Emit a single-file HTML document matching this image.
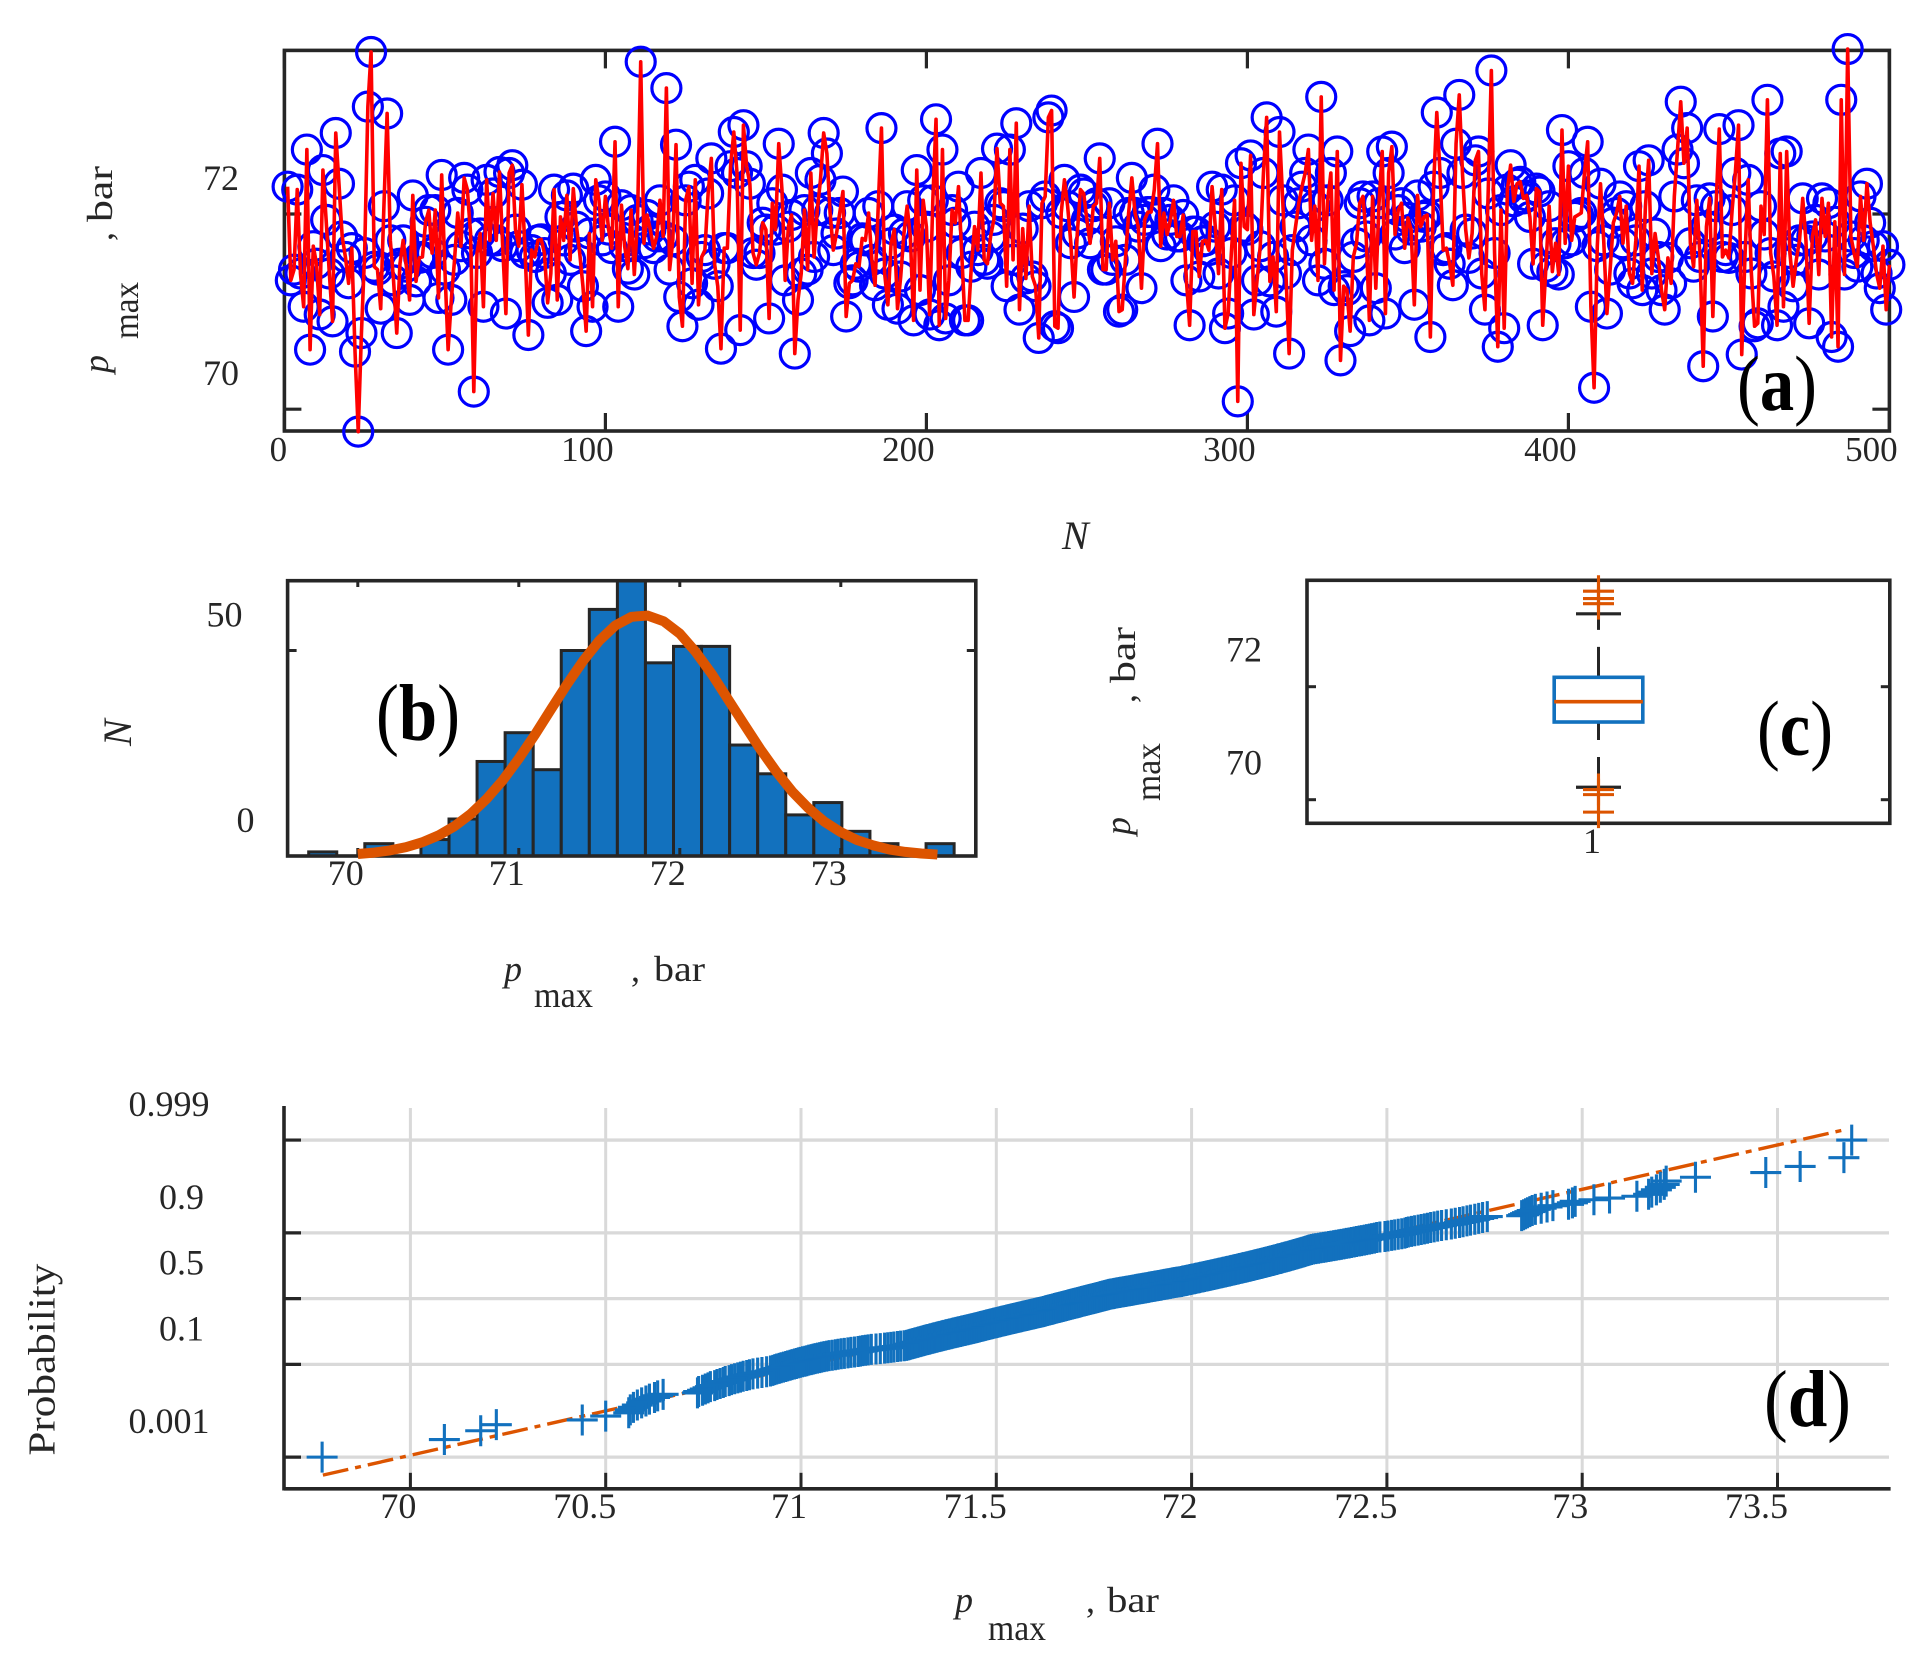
<!DOCTYPE html>
<html lang="en">
<head>
<meta charset="utf-8">
<title>Peak pressure statistics</title>
<style>
html,body{margin:0;padding:0;background:#fff}
svg{display:block}
text{font-family:"Liberation Serif",serif;fill:#262626}
</style>
</head>
<body>
<svg id="fig" xmlns="http://www.w3.org/2000/svg" width="1932" height="1672" viewBox="0 0 1932 1672">
<defs><clipPath id="histClip"><rect x="287.6" y="580.7" width="688.2" height="275.3"/></clipPath></defs>

<g id="panelA">
  <rect x="284.4" y="50.4" width="1605" height="380.6" fill="none" stroke="#262626" stroke-width="3.6"/>
</g>
<g id="panelB"></g>
<g id="panelC">
  <rect x="1307" y="580.3" width="582.8" height="243" fill="none" stroke="#262626" stroke-width="3.6"/>
</g>
<g id="panelD"></g>

<g font-size="36">
  <text transform="translate(108,373) rotate(-90)" font-style="italic">p</text>
  <text transform="translate(138,339) rotate(-90)" textLength="57" lengthAdjust="spacingAndGlyphs">max</text>
  <text transform="translate(112,241) rotate(-90)">,</text>
  <text transform="translate(112,222) rotate(-90)" textLength="56" lengthAdjust="spacingAndGlyphs">bar</text>
</g>
<text x="1062" y="549" font-size="40" font-style="italic">N</text>
<text x="1737" y="410" font-size="78" textLength="80" lengthAdjust="spacingAndGlyphs" style="fill:#000">(<tspan font-weight="bold">a</tspan>)</text>

<text transform="translate(131,746) rotate(-90)" font-size="40" font-style="italic">N</text>
<g font-size="36">
  <text x="504" y="981" font-style="italic">p</text>
  <text x="534" y="1007" textLength="59" lengthAdjust="spacingAndGlyphs">max</text>
  <text x="631" y="981">,</text>
  <text x="654" y="981" textLength="51" lengthAdjust="spacingAndGlyphs">bar</text>
</g>
<text x="376" y="740" font-size="80" textLength="84" lengthAdjust="spacingAndGlyphs" style="fill:#000">(<tspan font-weight="bold">b</tspan>)</text>

<g font-size="36">
  <text transform="translate(1130,835) rotate(-90)" font-style="italic">p</text>
  <text transform="translate(1160,801) rotate(-90)" textLength="58" lengthAdjust="spacingAndGlyphs">max</text>
  <text transform="translate(1135,703) rotate(-90)">,</text>
  <text transform="translate(1135,683) rotate(-90)" textLength="56" lengthAdjust="spacingAndGlyphs">bar</text>
</g>
<text x="1757" y="755" font-size="78" textLength="76" lengthAdjust="spacingAndGlyphs" style="fill:#000">(<tspan font-weight="bold">c</tspan>)</text>

<text transform="translate(54.5,1455.6) rotate(-90)" font-size="38" textLength="192" lengthAdjust="spacingAndGlyphs">Probability</text>
<g font-size="36">
  <text x="955" y="1612" font-style="italic">p</text>
  <text x="988" y="1640" textLength="58" lengthAdjust="spacingAndGlyphs">max</text>
  <text x="1086" y="1612">,</text>
  <text x="1107" y="1612" textLength="52" lengthAdjust="spacingAndGlyphs">bar</text>
</g>
<text x="1764" y="1426" font-size="80" textLength="87" lengthAdjust="spacingAndGlyphs" style="fill:#000">(<tspan font-weight="bold">d</tspan>)</text>
</svg>

<script>
// ---- Panel (a): peak pressure per shot, bar ----
const pressureSeries = [
72.28,71.32,71.43,72.25,71.39,71.05,72.66,70.61,71.67,71.49,
70.97,72.45,71.94,71.39,70.90,72.83,72.31,71.77,71.56,71.29,
71.65,70.59,69.77,70.78,71.60,73.10,73.66,71.46,71.43,71.03,
72.08,73.03,71.73,71.32,70.78,71.49,71.73,71.46,71.12,72.19,
71.31,71.55,71.56,71.92,72.04,71.60,72.04,71.14,72.40,71.43,
70.61,71.12,71.53,72.01,71.67,72.37,72.25,71.80,70.18,71.60,
71.80,71.05,72.35,71.73,72.21,71.73,72.43,71.67,70.98,72.42,
72.50,71.84,71.67,72.30,71.60,70.76,71.63,71.56,71.73,71.74,
71.60,71.09,71.39,72.25,71.12,71.97,71.73,72.19,71.53,72.26,
71.87,71.60,71.26,70.80,71.80,71.05,72.35,72.14,71.73,72.18,
71.84,71.65,72.74,71.05,72.09,71.67,71.44,72.04,71.38,71.94,
73.56,71.70,71.99,71.84,71.65,71.77,72.14,71.77,73.29,71.43,
71.73,72.71,71.15,70.85,72.14,72.28,71.29,72.35,71.07,71.56,
71.63,72.21,72.57,71.49,71.26,70.62,71.65,71.65,72.49,72.84,
72.42,70.81,72.91,72.49,72.31,71.60,71.48,71.60,71.91,71.84,
70.93,72.11,71.84,72.72,72.25,71.32,71.87,71.99,70.57,71.12,
71.39,72.04,71.43,72.42,71.56,72.04,72.35,72.83,72.62,72.01,
71.63,71.80,72.01,72.23,70.95,71.29,71.32,71.49,71.46,71.75,
71.73,72.01,71.53,71.27,72.08,72.88,71.39,71.07,71.70,71.84,
71.03,71.36,71.80,72.08,71.77,70.91,72.45,71.22,72.14,71.87,
70.97,72.14,72.97,70.86,72.66,70.93,71.32,72.04,71.91,72.28,
71.60,70.91,70.91,71.46,71.87,71.63,72.42,71.53,71.49,71.77,
71.94,72.67,72.11,72.08,71.26,72.66,71.53,72.93,71.02,71.85,
71.34,72.08,71.36,71.26,70.73,72.11,72.18,72.99,73.06,70.85,
70.83,72.01,72.35,72.08,71.70,71.15,71.80,72.25,72.21,71.94,
71.70,72.08,72.11,72.57,71.43,71.43,72.11,71.53,71.72,71.00,
71.02,71.53,72.01,72.37,72.01,71.87,71.24,71.94,72.02,72.02,
72.25,72.72,71.67,72.01,71.79,71.94,72.14,71.77,71.77,71.99,
71.32,70.86,71.82,71.82,71.36,71.72,71.73,71.63,72.28,71.87,
71.39,72.25,70.83,70.98,71.60,72.14,70.08,72.52,71.87,71.84,
72.60,70.97,71.32,71.67,72.42,72.99,71.31,71.56,71.00,72.84,
72.14,71.39,70.57,71.63,71.87,72.11,72.28,72.42,72.66,71.73,
72.08,71.32,73.20,71.49,72.14,72.42,71.22,72.64,70.50,71.26,
71.22,70.80,71.56,71.70,72.11,72.18,71.77,70.91,72.18,71.24,
72.11,72.64,70.98,72.42,72.69,71.79,72.04,72.11,71.65,71.96,
71.84,71.07,72.19,71.87,71.97,71.99,70.74,72.28,73.04,72.42,
71.63,71.65,71.49,71.27,72.72,73.22,72.42,71.84,71.55,71.80,
72.55,72.64,71.39,71.02,72.21,73.47,71.60,70.64,72.04,70.83,
72.25,72.50,72.13,72.31,72.33,72.16,72.19,71.97,71.49,72.26,
72.23,70.86,71.46,72.08,71.41,71.70,71.38,72.86,71.70,72.49,
71.73,71.97,71.99,72.01,72.42,72.74,71.05,70.22,71.67,72.31,
71.73,70.98,71.43,71.91,72.01,72.18,71.70,72.08,71.39,71.29,
71.73,72.49,71.22,72.08,72.55,71.39,71.80,71.56,71.22,71.02,
71.55,71.29,72.18,72.66,73.15,72.52,72.88,71.70,71.46,72.14,
71.56,70.44,71.87,72.16,70.95,72.08,72.87,71.56,71.63,71.55,
72.04,72.42,72.91,70.56,71.56,72.35,71.39,70.85,70.88,72.08,
71.79,73.17,71.60,71.36,70.86,72.62,71.05,72.64,71.60,71.26,
71.53,71.73,72.16,71.73,70.88,71.77,71.94,71.38,72.16,71.77,
72.11,70.74,71.92,70.64,73.17,71.38,73.69,71.77,71.60,71.46,
72.18,71.73,72.31,71.91,71.67,71.39,71.24,71.67,71.02,71.48
];
const aXTicks = [0,100,200,300,400,500];
const aYTicks = [70,72];

// ---- Panel (b): histogram and fitted curve ----
const binStart = 69.695;
const binWidth = 0.1743;
const binCounts = [1,0,3,0,4,9,23,30,21,50,60,67,47,51,51,27,20,10,13,6,3,0,3];
const curveValues = [70.0,70.1,70.2,70.3,70.4,70.5,70.6,70.7,70.8,70.9,71.0,71.1,71.2,71.3,71.4,71.5,71.6,71.7,71.8,71.9,72.0,72.1,72.2,72.3,72.4,72.5,72.6,72.7,72.8,72.9,73.0,73.1,73.2,73.3,73.4,73.5,73.6];
const curveCounts = [0.49,0.83,1.36,2.16,3.33,4.98,7.24,10.2,13.9,18.4,23.7,29.5,35.7,41.8,47.5,52.4,56.1,58.2,58.5,57.1,54.1,49.6,44.2,38.1,32.0,26.0,20.5,15.6,11.6,8.3,5.8,3.9,2.6,1.6,1.0,0.61,0.35];
const bXTicks = [70,71,72,73];
const bYTicks = [0,50];

// ---- Panel (c): box plot ----
const boxStats = [70.22,71.375,71.735,72.166,73.29];
const boxOutliers = [69.78,70.09,70.18,73.47,73.56,73.69];
const cYTicks = [70,72];
const cXLabels = ['1'];

// ---- Panel (d): normal probability plot ----
const sortedPressure = [
69.774,70.087,70.18,70.22,70.44,70.50,
70.559,70.563,70.571,70.581,70.592,70.603,70.612,70.625,70.633,70.647,
70.735,70.738,70.748,70.755,70.762,70.768,70.779,70.785,70.793,70.801,70.806,70.816,70.822,70.83,70.838,70.845,70.852,70.861,70.868,70.877,70.889,70.9,70.912,
70.922,70.928,70.933,70.938,70.944,70.949,70.955,70.961,70.966,70.972,70.977,70.983,70.988,70.993,70.998,71.004,71.01,71.015,71.02,71.026,71.031,71.036,71.042,71.048,71.053,71.059,71.066,71.072,71.08,71.088,
71.095,71.103,71.111,71.12,71.128,71.137,71.146,71.152,71.158,71.165,71.172,71.18,71.192,71.203,71.214,71.222,71.23,71.238,71.247,71.255,71.264,
71.27,71.274,71.277,71.28,71.284,71.287,71.291,71.294,71.298,71.301,71.305,71.308,71.312,71.315,71.318,71.322,71.325,71.329,71.332,71.336,
71.339,71.342,71.346,71.349,71.353,71.356,71.36,71.363,71.366,71.37,71.373,71.377,71.38,71.384,71.387,71.39,71.394,71.397,71.401,71.404,
71.408,71.411,71.414,71.418,71.421,71.425,71.428,71.432,71.435,71.438,
71.442,71.445,71.448,71.451,71.454,71.457,71.46,71.463,71.466,71.469,71.472,71.475,71.478,71.481,71.484,71.487,71.49,71.493,71.496,71.499,
71.502,71.505,71.508,71.511,71.514,71.517,71.52,71.523,71.526,71.529,71.532,71.535,71.538,71.541,71.544,71.547,71.55,71.553,71.556,71.559,
71.562,71.565,71.568,71.571,71.574,71.577,71.58,71.583,71.586,71.589,71.592,71.595,71.598,71.601,71.604,71.607,71.61,71.613,71.616,71.619,
71.621,71.624,71.626,71.629,71.631,71.634,71.636,71.639,71.642,71.644,71.647,71.649,71.652,71.654,71.657,71.66,71.662,71.665,71.667,71.67,
71.672,71.675,71.677,71.68,71.683,71.685,71.688,71.69,71.693,71.695,71.698,71.70,71.703,71.706,71.708,71.711,71.713,71.716,71.718,71.721,
71.724,71.726,71.729,71.731,71.734,71.736,71.739,71.741,71.744,71.747,71.749,71.752,71.754,71.757,71.759,71.762,71.765,71.767,71.77,71.772,
71.775,71.777,71.78,71.782,71.785,71.787,71.789,
71.792,71.796,71.8,71.803,71.807,71.811,71.815,71.818,71.822,71.826,71.83,71.833,71.837,71.841,71.845,71.848,71.852,71.856,71.86,71.863,
71.867,71.871,71.875,71.878,71.882,71.886,71.89,71.893,71.897,71.901,71.905,71.908,71.912,71.916,71.92,71.923,71.927,71.931,71.935,71.938,
71.942,71.946,71.95,71.953,71.957,71.961,71.965,
71.97,71.974,71.977,71.98,71.984,71.987,71.99,71.994,71.997,72.0,72.003,72.007,72.01,72.013,72.017,72.02,72.023,72.027,72.03,72.033,
72.037,72.04,72.043,72.047,72.05,72.053,72.057,72.06,72.063,72.067,72.07,72.073,72.077,72.08,72.083,72.087,72.09,72.093,72.097,72.1,
72.103,72.107,72.11,72.113,72.117,72.12,72.123,72.127,72.13,72.133,72.137,
72.14,72.143,72.147,72.15,72.153,72.157,72.16,72.163,72.167,72.17,72.173,72.177,72.18,72.183,72.187,72.19,72.193,72.197,72.2,72.203,
72.207,72.21,72.213,72.217,72.22,72.223,72.227,72.23,72.233,72.237,72.24,72.243,72.247,72.25,72.253,72.257,72.26,72.263,72.267,72.27,
72.273,72.277,72.28,72.283,72.287,72.29,72.293,72.297,72.3,72.303,72.307,
72.312,72.318,72.325,72.331,72.338,72.344,72.351,72.357,72.364,72.37,72.377,72.383,72.39,72.396,72.403,72.409,72.416,72.422,72.429,72.435,
72.442,72.448,72.455,72.461,72.468,72.474,72.482,
72.495,72.503,72.512,72.52,72.529,72.538,72.546,72.55,72.555,72.563,72.571,72.58,72.588,72.596,72.604,72.612,72.621,72.63,72.64,72.652,
72.665,72.675,72.686,72.695,72.705,72.714,72.725,72.735,72.745,72.757,
72.845,72.85,72.855,72.86,72.866,72.872,72.88,72.895,72.91,72.925,72.965,72.975,72.982,
73.03,73.07,73.14,73.17,73.178,73.19,
73.2,73.21,73.215,73.29,73.47,73.558,73.67,73.69
];
const fitValues = [69.776,73.668];
const fitProbabilities = [0.00029,0.99949];
const dXTicks = [70,70.5,71,71.5,72,72.5,73,73.5];
const dYTicks = [0.001,0.1,0.5,0.9,0.999];

// ---- Axis functions ----
const xA = n => 284.4 + 3.21 * n;
const yA = v => 214 + (72 - v) * 97.6;
const xB = v => 357.8 + 161 * (v - 70);
const yB = c => 856 - 4.11 * c;
const xC = () => 1598.5;
const yC = v => 686.7 + (72 - v) * 56.5;
const xD = v => 410.4 + 390.6 * (v - 70);
function normInv(p){
  const a=[-39.69683028665376,220.9460984245205,-275.9285104469687,138.357751867269,-30.66479806614716,2.506628277459239];
  const b=[-54.47609879822406,161.5858368580409,-155.6989798598866,66.80131188771972,-13.28068155288572];
  const c=[-0.007784894002430293,-0.3223964580411365,-2.400758277161838,-2.549732539343734,4.374664141464968,2.938163982698783];
  const d=[0.007784695709041462,0.3224671290700398,2.445134137142996,3.754408661907416];
  let q,r;
  if(p<0.02425){q=Math.sqrt(-2*Math.log(p));return (((((c[0]*q+c[1])*q+c[2])*q+c[3])*q+c[4])*q+c[5])/((((d[0]*q+d[1])*q+d[2])*q+d[3])*q+1);}
  if(p>1-0.02425){q=Math.sqrt(-2*Math.log(1-p));return -(((((c[0]*q+c[1])*q+c[2])*q+c[3])*q+c[4])*q+c[5])/((((d[0]*q+d[1])*q+d[2])*q+d[3])*q+1);}
  q=p-0.5;r=q*q;
  return (((((a[0]*r+a[1])*r+a[2])*r+a[3])*r+a[4])*r+a[5])*q/(((((b[0]*r+b[1])*r+b[2])*r+b[3])*r+b[4])*r+1);
}
const yD = p => 1298.6 - 51.3 * normInv(p);

// ---- Helpers ----
const NS = 'http://www.w3.org/2000/svg';
const INK = '#262626', BLUE = '#1271be', ORANGE = '#dc5400', GRID = '#d9d9d9';
function mk(tag, attrs, parent){
  const el = document.createElementNS(NS, tag);
  for (const k in attrs) el.setAttribute(k, attrs[k]);
  parent.appendChild(el);
  return el;
}
function labelShift(s){
  return 6 * (s.replace('.', '').length + (s.includes('.') ? 0.5 : 0));
}
const panelA = document.getElementById('panelA');
const panelB = document.getElementById('panelB');
const panelC = document.getElementById('panelC');
const panelD = document.getElementById('panelD');

// ---- Draw panel (a) ----
aXTicks.forEach(t => {
  [[431, 413], [50.4, 68.4]].forEach(([y1, y2]) => {
    const tk = mk('line', {x1: xA(t), x2: xA(t), y1, y2, stroke: INK, 'stroke-width': 3.2}, panelA);
    
    
  });
  const s = String(t);
  const lb = mk('text', {x: xA(t) - labelShift(s), y: 461, 'font-size': 35, 'text-anchor': 'middle'}, panelA);
  lb.textContent = s;
  
  
});
aYTicks.forEach(t => {
  [[284.4, 301.4], [1889.4, 1872.4]].forEach(([x1, x2]) => {
    const tk = mk('line', {x1, x2, y1: yA(t), y2: yA(t), stroke: INK, 'stroke-width': 3.2}, panelA);
    
    
  });
  const lb = mk('text', {x: 221, y: yA(t) - 24, 'font-size': 36, 'text-anchor': 'middle'}, panelA);
  lb.textContent = String(t);
  
  
});
pressureSeries.forEach((v, i) => {
  const c = mk('circle', {cx: xA(i + 1), cy: yA(v), r: 14.5, fill: 'none', stroke: '#0000ff', 'stroke-width': 3.2}, panelA);
  
  
});
const redLine = mk('polyline', {points: pressureSeries.map((v, i) => xA(i + 1).toFixed(2) + ',' + yA(v).toFixed(2)).join(' '), fill: 'none', stroke: '#ff0000', 'stroke-width': 3.6, 'stroke-linejoin': 'round'}, panelA);



// ---- Draw panel (b) ----
const barsB = mk('g', {'clip-path': 'url(#histClip)'}, panelB);


binCounts.forEach((c, i) => {
  if (c <= 0) return;
  const x0 = xB(binStart + binWidth * i), x1 = xB(binStart + binWidth * (i + 1));
  const r = mk('rect', {x: x0, y: yB(c), width: x1 - x0, height: yB(0) - yB(c), fill: BLUE, stroke: INK, 'stroke-width': 3}, barsB);
  
  
});
const frameB = mk('rect', {x: 287.6, y: 580.7, width: 688.2, height: 275.3, fill: 'none', stroke: INK, 'stroke-width': 3.6}, panelB);


bXTicks.forEach(t => {
  [[856, 848], [580.7, 587]].forEach(([y1, y2]) => {
    const tk = mk('line', {x1: xB(t), x2: xB(t), y1, y2, stroke: INK, 'stroke-width': 3}, panelB);
    
    
  });
  const s = String(t);
  const lb = mk('text', {x: xB(t) - labelShift(s), y: 885, 'font-size': 36, 'text-anchor': 'middle'}, panelB);
  lb.textContent = s;
  
  
});
bYTicks.forEach(t => {
  [[287.6, 296.6], [975.8, 966.8]].forEach(([x1, x2]) => {
    const tk = mk('line', {x1, x2, y1: yB(t), y2: yB(t), stroke: INK, 'stroke-width': 3}, panelB);
    
    
  });
  const s = String(t);
  const lb = mk('text', {x: 254 - (s.length === 1 ? 8.5 : 29.5), y: yB(t) - 24, 'font-size': 36, 'text-anchor': 'middle'}, panelB);
  lb.textContent = s;
  
  
});
const curve = mk('polyline', {points: curveValues.map((v, i) => xB(v).toFixed(2) + ',' + yB(curveCounts[i]).toFixed(2)).join(' '), fill: 'none', stroke: ORANGE, 'stroke-width': 10, 'stroke-linejoin': 'round'}, panelB);



// ---- Draw panel (c) ----
cYTicks.forEach(t => {
  [[1307, 1316], [1889.8, 1880.8]].forEach(([x1, x2]) => {
    const tk = mk('line', {x1, x2, y1: yC(t), y2: yC(t), stroke: INK, 'stroke-width': 3}, panelC);
    
    
  });
  const lb = mk('text', {x: 1244, y: yC(t) - 25, 'font-size': 36, 'text-anchor': 'middle'}, panelC);
  lb.textContent = String(t);
  
  
});
const catLabel = mk('text', {x: 1592, y: 853, 'font-size': 36, 'text-anchor': 'middle'}, panelC);
catLabel.textContent = cXLabels[0];


const cx = xC();
const upperWhisker = mk('line', {x1: cx, x2: cx, y1: yC(boxStats[4]), y2: yC(boxStats[3]), stroke: INK, 'stroke-width': 3, 'stroke-dasharray': '16 17 40'}, panelC);


const lowerWhisker = mk('line', {x1: cx, x2: cx, y1: yC(boxStats[1]), y2: yC(boxStats[0]), stroke: INK, 'stroke-width': 3, 'stroke-dasharray': '18 17 40'}, panelC);


[boxStats[0], boxStats[4]].forEach(v => {
  const cap = mk('line', {x1: cx - 22.5, x2: cx + 22.5, y1: yC(v), y2: yC(v), stroke: INK, 'stroke-width': 3.2}, panelC);
  
  
});
const box = mk('rect', {x: cx - 44.3, y: yC(boxStats[3]), width: 88.6, height: yC(boxStats[1]) - yC(boxStats[3]), fill: 'none', stroke: BLUE, 'stroke-width': 3.6}, panelC);


const median = mk('line', {x1: cx - 44.3, x2: cx + 44.3, y1: yC(boxStats[2]), y2: yC(boxStats[2]), stroke: ORANGE, 'stroke-width': 3.6}, panelC);


boxOutliers.forEach(v => {
  const o = mk('path', {d: 'M' + (cx - 15.5) + ' ' + yC(v) + 'H' + (cx + 15.5) + 'M' + cx + ' ' + (yC(v) - 16) + 'V' + (yC(v) + 16), fill: 'none', stroke: ORANGE, 'stroke-width': 3.1}, panelC);
  
  
});

// ---- Draw panel (d) ----
dYTicks.forEach(p => {
  const g = mk('line', {x1: 284, x2: 1889, y1: yD(p), y2: yD(p), stroke: GRID, 'stroke-width': 3.3}, panelD);
  
  
});
dXTicks.forEach(t => {
  const g = mk('line', {x1: xD(t), x2: xD(t), y1: 1108, y2: 1489, stroke: GRID, 'stroke-width': 3}, panelD);
  
  
});
const fitLine = mk('line', {x1: xD(fitValues[0]), x2: xD(fitValues[1]), y1: yD(fitProbabilities[0]), y2: yD(fitProbabilities[1]), stroke: ORANGE, 'stroke-width': 3.4, 'stroke-dasharray': '26 7 6 7'}, panelD);


sortedPressure.forEach((v, i) => {
  const px = xD(v), py = yD((i + 0.5) / sortedPressure.length);
  const m = mk('path', {d: 'M' + (px - 15.5).toFixed(2) + ' ' + py.toFixed(2) + 'H' + (px + 15.5).toFixed(2) + 'M' + px.toFixed(2) + ' ' + (py - 15.5).toFixed(2) + 'V' + (py + 15.5).toFixed(2), fill: 'none', stroke: BLUE, 'stroke-width': 3.1}, panelD);
  
  
});
const axisLeft = mk('line', {x1: 284, x2: 284, y1: 1106, y2: 1490.5, stroke: INK, 'stroke-width': 3.6}, panelD);


const axisBottom = mk('line', {x1: 284, x2: 1890.6, y1: 1488.8, y2: 1488.8, stroke: INK, 'stroke-width': 3.6}, panelD);


dXTicks.forEach(t => {
  const tk = mk('line', {x1: xD(t), x2: xD(t), y1: 1488.8, y2: 1472.8, stroke: INK, 'stroke-width': 3}, panelD);
  
  
  const s = String(t);
  const lb = mk('text', {x: xD(t) - labelShift(s), y: 1518, 'font-size': 36, 'text-anchor': 'middle'}, panelD);
  lb.textContent = s;
  
  
});
dYTicks.forEach(p => {
  const tk = mk('line', {x1: 284, x2: 301, y1: yD(p), y2: yD(p), stroke: INK, 'stroke-width': 3.2}, panelD);
  
  
  const s = String(p);
  const lb = mk('text', {x: s.length > 3 ? 169 : 181.5, y: yD(p) - 24, 'font-size': 36, 'text-anchor': 'middle'}, panelD);
  lb.textContent = s;
  
  
});
</script>
</body>
</html>
